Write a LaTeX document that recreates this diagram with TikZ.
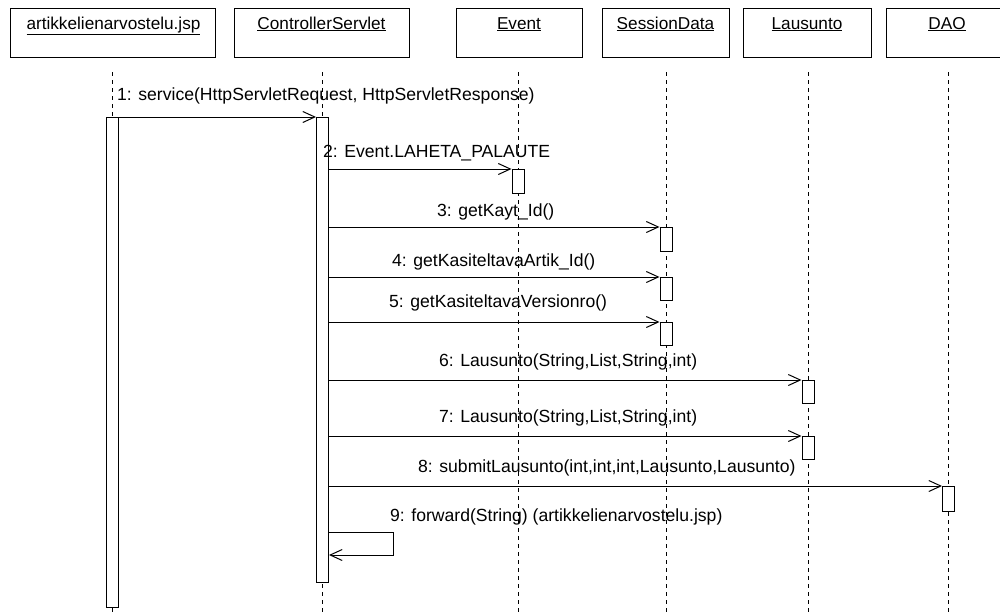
\documentclass[tikz,border=0pt]{standalone}
\usepackage{fontspec}
\setmainfont{Liberation Sans}
\usetikzlibrary{arrows.meta}
\begin{document}
\begin{tikzpicture}[x=1pt,y=-1pt,
  objbox/.style={draw, line width=1pt, inner sep=0pt, anchor=north west},
  objname/.style={anchor=base, inner sep=0pt, font=\fontsize{17.2}{20}\selectfont},
  life/.style={line width=1pt, dash pattern=on 4pt off 4pt},
  act/.style={draw, fill=white, line width=1pt, minimum width=12pt, inner sep=0pt, anchor=north},
  msg/.style={line width=1pt, -{Straight Barb[length=12pt,width=11pt,line width=1pt]}},
  msglabel/.style={anchor=base west, inner sep=0pt, font=\fontsize{17.6}{20}\selectfont}]
\useasboundingbox (0,0) rectangle (1000,613);

% object boxes
\node[objbox, minimum width=205pt, minimum height=49pt] (jsp) at (10,8) {};
\node[objbox, minimum width=175pt, minimum height=49pt] (ctrl) at (234,8) {};
\node[objbox, minimum width=126pt, minimum height=49pt] (ev) at (456,8) {};
\node[objbox, minimum width=127pt, minimum height=49pt] (sd) at (602,8) {};
\node[objbox, minimum width=128pt, minimum height=49pt] (la) at (743,8) {};
\node[objbox, minimum width=114pt, minimum height=49pt] (dao) at (886,8) {};

\node[objname] (jspN) at (113.5,29) {\underline{artikkelienarvostelu.jsp}};
\node[objname] (ctrlN) at (321.5,29) {\underline{ControllerServlet}};
\node[objname] (evN) at (519,29) {\underline{Event}};
\node[objname] (sdN) at (665.5,29) {\underline{SessionData}};
\node[objname] (laN) at (807,29) {\underline{Lausunto}};
\node[objname] (daoN) at (947,29) {\underline{DAO}};

% lifelines
\coordinate (jspT) at (112.5,72);  \coordinate (jspB) at (112.5,613);
\coordinate (ctrlT) at (322.5,72); \coordinate (ctrlB) at (322.5,613);
\coordinate (evT) at (518,72);     \coordinate (evB) at (518,613);
\coordinate (sdT) at (666,72);     \coordinate (sdB) at (666,613);
\coordinate (laT) at (808,72);     \coordinate (laB) at (808,613);
\coordinate (daoT) at (948.5,72);  \coordinate (daoB) at (948.5,613);
\draw[life] (jspT) -- (jspB);
\draw[life] (ctrlT) -- (ctrlB);
\draw[life] (evT) -- (evB);
\draw[life] (sdT) -- (sdB);
\draw[life] (laT) -- (laB);
\draw[life] (daoT) -- (daoB);

% activations
\node[act, minimum height=490pt] (jspA) at (112.5,117) {};
\node[act, minimum height=465pt] (ctrlA) at (322.5,117) {};
\node[act, minimum height=24pt] (evA) at (518,169) {};
\node[act, minimum height=24pt] (sdA3) at (666,227) {};
\node[act, minimum height=23pt] (sdA4) at (666,277) {};
\node[act, minimum height=23pt] (sdA5) at (666,322) {};
\node[act, minimum height=23pt] (laA6) at (808,380) {};
\node[act, minimum height=23pt] (laA7) at (808,436) {};
\node[act, minimum height=25pt] (daoA8) at (948.5,486) {};

% messages
\draw[msg] (jspA.north east) -- (ctrlA.north west);
\draw[msg] (ctrlA.east |- evA.north) -- (evA.north west);
\draw[msg] (ctrlA.east |- sdA3.north) -- (sdA3.north west);
\draw[msg] (ctrlA.east |- sdA4.north) -- (sdA4.north west);
\draw[msg] (ctrlA.east |- sdA5.north) -- (sdA5.north west);
\draw[msg] (ctrlA.east |- laA6.north) -- (laA6.north west);
\draw[msg] (ctrlA.east |- laA7.north) -- (laA7.north west);
\draw[msg] (ctrlA.east |- daoA8.north) -- (daoA8.north west);
\coordinate (self1) at (393,532);
\coordinate (self2) at (393,555);
\draw[msg] (ctrlA.east |- self1) -- (self1) -- (self2) -- (ctrlA.east |- self2);

% message labels
\node[msglabel] (m1) at (117,100) {1: service(HttpServletRequest, HttpServletResponse)};
\node[msglabel] (m2) at (323,157) {2: Event.LAHETA\_PALAUTE};
\node[msglabel] (m3) at (437,216) {3: getKayt\_Id()};
\node[msglabel] (m4) at (392,266) {4: getKasiteltavaArtik\_Id()};
\node[msglabel] (m5) at (389,307) {5: getKasiteltavaVersionro()};
\node[msglabel] (m6) at (439,366) {6: Lausunto(String,List,String,int)};
\node[msglabel] (m7) at (439,422) {7: Lausunto(String,List,String,int)};
\node[msglabel] (m8) at (418,472) {8: submitLausunto(int,int,int,Lausunto,Lausunto)};
\node[msglabel] (m9) at (390,521) {9: forward(String) (artikkelienarvostelu.jsp)};
\end{tikzpicture}
\end{document}
